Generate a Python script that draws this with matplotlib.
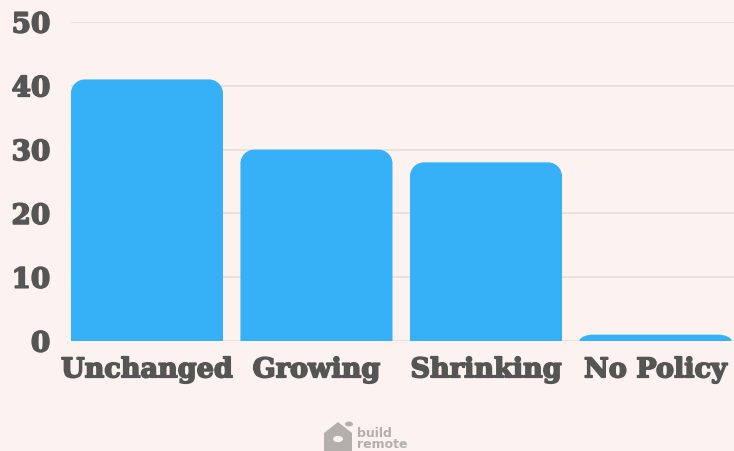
import matplotlib.pyplot as plt
import numpy as np
from matplotlib.patches import PathPatch, Polygon, Circle
from matplotlib.path import Path
import matplotlib.patheffects as pe

categories = ['Unchanged', 'Growing', 'Shrinking', 'No Policy']
values = [41, 30, 28, 1]
yticks = [0, 10, 20, 30, 40, 50]

bg = '#fcf3f1'
bar_color = '#36b0f7'
text_color = '#555555'
grid_color = '#e3dedc'

W, H = 734, 452
fig = plt.figure(figsize=(W / 100, H / 100), dpi=100, facecolor=bg)
ax = fig.add_axes([71 / W, (H - 342) / H, (W - 71) / W, (342 - 23) / H])
ax.set_facecolor(bg)

xlo, xhi = -0.448, 3.463
ylo, yhi = 0, 50
ax.set_xlim(xlo, xhi)
ax.set_ylim(ylo, yhi)

# px -> data conversions for rounded corners
xu = (xhi - xlo) / (W - 71)
yu = (yhi - ylo) / (342 - 23)
r_px = 14
width = 0.897
k = 0.5523


def top_rounded(x0, w, h):
    x1 = x0 + w
    rx = min(r_px * xu, w / 2)
    ry = min(r_px * yu, h)
    verts = [(x0, 0), (x0, h - ry),
             (x0, h - ry + k * ry), (x0 + rx - k * rx, h), (x0 + rx, h),
             (x1 - rx, h),
             (x1 - rx + k * rx, h), (x1, h - ry + k * ry), (x1, h - ry),
             (x1, 0), (x0, 0)]
    codes = [Path.MOVETO, Path.LINETO,
             Path.CURVE4, Path.CURVE4, Path.CURVE4,
             Path.LINETO,
             Path.CURVE4, Path.CURVE4, Path.CURVE4,
             Path.LINETO, Path.CLOSEPOLY]
    return Path(verts, codes)


for i, v in enumerate(values):
    ax.add_patch(PathPatch(top_rounded(i - width / 2, width, v), facecolor=bar_color,
                           edgecolor='none', zorder=3, clip_on=False))

for t in yticks:
    ax.axhline(t, color=grid_color, lw=1.2, zorder=1)

for s in ax.spines.values():
    s.set_visible(False)

font = dict(family='DejaVu Serif', weight='bold', color=text_color)
heavy = [pe.withStroke(linewidth=1.2, foreground=text_color)]
ax.set_yticks(yticks)
ax.set_yticklabels([str(t) for t in yticks], fontsize=20, **font)
ax.set_xticks(range(len(categories)))
ax.set_xticklabels(categories, fontsize=19.5, **font)
for lbl in ax.get_xticklabels() + ax.get_yticklabels():
    lbl.set_path_effects(heavy)
ax.tick_params(axis='y', length=0, pad=15)
ax.tick_params(axis='x', length=0, pad=11)

# logo
logo_c = '#b3afad'
fig.text(357 / W, 1 - 439 / H, 'build\nremote', fontsize=9, fontweight='bold',
         color=logo_c, ha='left', va='center', linespacing=0.8,
         family='DejaVu Sans')
house = Polygon([(324 / W, 1 - 452 / H), (324 / W, 1 - 434 / H), (338 / W, 1 - 423 / H),
                 (352 / W, 1 - 434 / H), (352 / W, 1 - 452 / H)],
                closed=True, transform=fig.transFigure, facecolor=logo_c, edgecolor='none')
fig.patches.append(house)
fig.patches.append(Circle((338 / W, 1 - 440 / H), 5 / W, transform=fig.transFigure,
                          facecolor=bg, edgecolor='none'))
fig.patches.append(Circle((349 / W, 1 - 425 / H), 4 / W, transform=fig.transFigure,
                          facecolor=logo_c, edgecolor='none'))

fig.savefig('out.png', dpi=100, facecolor=bg)
